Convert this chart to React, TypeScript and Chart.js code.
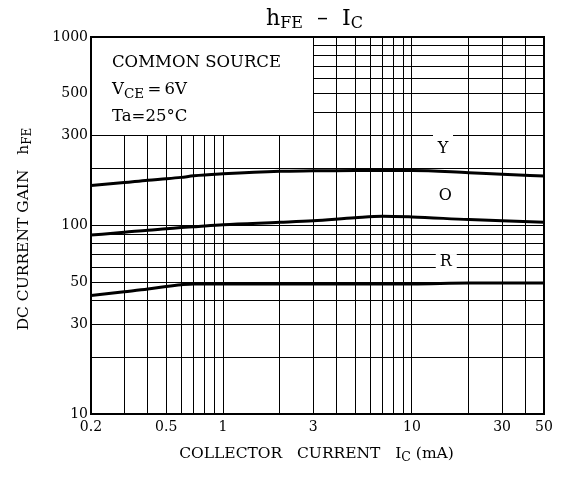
import React, { useEffect, useRef } from 'react';
import { Chart, registerables } from 'chart.js';

Chart.register(...registerables);

// ---- data ----
const currents = [0.2, 0.3, 0.4, 0.5, 0.6, 0.7, 1, 2, 3, 5, 7, 10, 20, 30, 50];
const gainY = [163, 169, 174, 177, 180, 183.5, 188, 194, 195, 196, 196, 196, 190.5, 187, 183];
const gainO = [89, 92, 94.5, 96, 97.5, 98.5, 101, 104, 106, 110, 112, 111, 107.5, 106, 104];
const gainR = [42.5, 44.5, 46, 47.5, 48.5, 49, 49, 49, 49, 49, 49, 49, 49.5, 49.5, 49.6];

const xGrid = [0.2, 0.3, 0.4, 0.5, 0.6, 0.7, 0.8, 0.9, 1, 2, 3, 4, 5, 6, 7, 8, 9, 10, 20, 30, 40, 50];
const xLabels = [0.2, 0.5, 1, 3, 10, 30, 50];
const yGrid = [10, 20, 30, 40, 50, 60, 70, 80, 90, 100, 200, 300, 400, 500, 600, 700, 800, 900, 1000];
const yLabels = [10, 30, 50, 100, 300, 500, 1000];

const rankNames = ['Y', 'O', 'R'];
const rankAtCurrent = [14.6, 15.0, 15.1];
const rankAtGain = [256, 144, 64];

// condition box spans these data values
const boxCurrent = [0.2, 3];
const boxGain = [300, 1000];

const FONT = "'DejaVu Serif', serif";

type Part = [string, number, number];

function richText(ctx: CanvasRenderingContext2D, parts: Part[], x: number, y: number, align: 'left' | 'center') {
  let total = 0;
  const widths: number[] = [];
  for (const [t, size] of parts) {
    ctx.font = `${size}px ${FONT}`;
    const w = ctx.measureText(t).width;
    widths.push(w);
    total += w;
  }
  let cx = align === 'center' ? x - total / 2 : x;
  ctx.textAlign = 'left';
  ctx.textBaseline = 'alphabetic';
  parts.forEach(([t, size, dy], i) => {
    ctx.font = `${size}px ${FONT}`;
    ctx.fillText(t, cx, y + dy);
    cx += widths[i];
  });
}

const align = (p: number) => Math.round(p - 0.5) + 0.5;

const overlay = {
  id: 'overlay',
  beforeDatasetsDraw(chart: any) {
    const { ctx, scales } = chart;
    const x = scales.x;
    const y = scales.y;
    ctx.save();
    // white condition box hides grid
    const bx = align(x.getPixelForValue(boxCurrent[1]));
    const by = align(y.getPixelForValue(boxGain[0]));
    const lx = x.getPixelForValue(boxCurrent[0]);
    const ty = y.getPixelForValue(boxGain[1]);
    ctx.fillStyle = '#fff';
    ctx.fillRect(lx + 1, ty + 1, bx - 0.5 - (lx + 1), by - 0.5 - (ty + 1));
    // gaps in grid for rank labels
    const gaps = [
      [-10, -15, 20, 22],
      [-10, -8, 20, 16],
      [-10, -8, 21, 16],
    ];
    rankNames.forEach((n, i) => {
      const px = x.getPixelForValue(rankAtCurrent[i]);
      const py = y.getPixelForValue(rankAtGain[i]);
      const g = gaps[i];
      ctx.fillRect(px + g[0], py + g[1], g[2], g[3]);
    });
    ctx.restore();
  },
  afterDatasetsDraw(chart: any) {
    const { ctx, chartArea: a, scales } = chart;
    const x = scales.x;
    const y = scales.y;
    ctx.save();
    ctx.strokeStyle = '#000';
    ctx.lineWidth = 2;
    ctx.strokeRect(a.left, a.top, a.right - a.left, a.bottom - a.top);
    ctx.fillStyle = '#000';
    ctx.textAlign = 'center';
    ctx.textBaseline = 'middle';
    ctx.font = `16px ${FONT}`;
    rankNames.forEach((n, i) => {
      const px = x.getPixelForValue(rankAtCurrent[i]);
      const py = y.getPixelForValue(rankAtGain[i]);
      ctx.fillText(n, px, py);
    });
    // condition text
    const tx = a.left + 21;
    richText(ctx, [['COMMON SOURCE', 16.5, 0]], tx, a.top + 30, 'left');
    richText(ctx, [['V', 16.5, 0], ['CE', 13.5, 4], ['\u2009=\u20096V', 16.5, 0]], tx, a.top + 57, 'left');
    richText(ctx, [['Ta=25°C', 16.5, 0]], tx, a.top + 84, 'left');
    // title
    const cx = (a.left + a.right) / 2 - 3;
    richText(ctx, [['h', 22, 0], ['FE', 16, 3], ['  –  ', 22, 0], ['I', 22, 0], ['C', 16, 3]], cx, 25, 'center');
    // x title
    richText(ctx, [['COLLECTOR   CURRENT   I', 15.5, 0], ['C', 12.5, 3], [' (mA)', 15.5, 0]], cx + 2, 458, 'center');
    // y title
    ctx.translate(28, 229);
    ctx.rotate(-Math.PI / 2);
    richText(ctx, [['DC CURRENT GAIN   h', 15.5, 0], ['FE', 12, 3]], 0, 0, 'center');
    ctx.restore();
  },
};

export default function App() {
  const ref = useRef<HTMLCanvasElement | null>(null);
  useEffect(() => {
    document.body.style.margin = '0';
    const canvas = ref.current;
    if (!canvas) return;
    const mk = (vals: number[]) => currents.map((c, i) => ({ x: c, y: vals[i] }));
    const ds = (label: string, vals: number[]) => ({
      label,
      data: mk(vals),
      borderColor: '#000',
      backgroundColor: '#000',
      borderWidth: 3,
      pointRadius: 0,
      cubicInterpolationMode: 'monotone' as const,
      fill: false,
    });
    const chart = new Chart(canvas, {
      type: 'line',
      data: { datasets: [ds('Y', gainY), ds('O', gainO), ds('R', gainR)] },
      options: {
        animation: false,
        responsive: false,
        events: [],
        layout: { padding: { top: 37, right: 18, left: 0, bottom: 0 } },
        plugins: { legend: { display: false }, tooltip: { enabled: false }, title: { display: false } },
        scales: {
          x: {
            type: 'logarithmic',
            min: 0.2,
            max: 50,
            afterBuildTicks: (s: any) => { s.ticks = xGrid.map((v) => ({ value: v })); },
            afterFit: (s: any) => { s.height = 65; },
            grid: { color: '#000', lineWidth: 1, drawTicks: false },
            border: { display: true, color: '#000', width: 2 },
            ticks: {
              autoSkip: false,
              maxRotation: 0,
              minRotation: 0,
              padding: 5,
              color: '#000',
              font: { family: FONT, size: 14 },
              callback: (v: any) => (xLabels.includes(Number(v)) ? String(v) : ''),
            },
          },
          y: {
            type: 'logarithmic',
            min: 10,
            max: 1000,
            afterBuildTicks: (s: any) => { s.ticks = yGrid.map((v) => ({ value: v })); },
            afterFit: (s: any) => { s.width = 91; },
            grid: { color: '#000', lineWidth: 1, drawTicks: false },
            border: { display: true, color: '#000', width: 2 },
            ticks: {
              autoSkip: false,
              padding: 3,
              color: '#000',
              font: { family: FONT, size: 14 },
              callback: (v: any) => (yLabels.includes(Number(v)) ? String(v) : ''),
            },
          },
        },
      },
      plugins: [overlay],
    });
    return () => chart.destroy();
  }, []);
  return (
    <div style={{ width: 562, height: 479, background: '#fff' }}>
      <canvas ref={ref} width={562} height={479} />
    </div>
  );
}
